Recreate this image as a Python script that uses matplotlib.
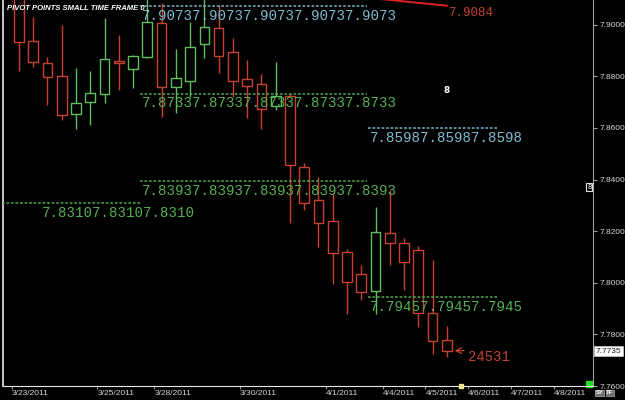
import matplotlib
matplotlib.use("Agg")
import matplotlib.pyplot as plt
import matplotlib.transforms as mtransforms
from matplotlib.patches import Rectangle

# bars (3 per trading day)
opens = [7.9130, 7.8937, 7.8852, 7.8802, 7.8654, 7.8701, 7.8732, 7.8860, 7.8829, 7.8875,
         7.9007, 7.8759, 7.8782, 7.8926, 7.8988, 7.8895, 7.8790, 7.8771, 7.8685, 7.8724,
         7.8449, 7.8321, 7.8240, 7.8119, 7.8034, 7.7968, 7.8193, 7.8154, 7.8127, 7.7883,
         7.7778]
highs = [7.9160, 7.9030, 7.8875, 7.8999, 7.8833, 7.8821, 7.9026, 7.8960, 7.8883, 7.9100,
         7.9085, 7.8906, 7.9011, 7.9100, 7.9077, 7.8949, 7.8864, 7.8809, 7.8856, 7.8732,
         7.8464, 7.8410, 7.8348, 7.8131, 7.8069, 7.8294, 7.8360, 7.8174, 7.8143, 7.8088,
         7.7833]
lows = [7.8821, 7.8836, 7.8689, 7.8631, 7.8596, 7.8612, 7.8697, 7.8747, 7.8755, 7.8871,
        7.8643, 7.8658, 7.8720, 7.8871, 7.8813, 7.8720, 7.8639, 7.8596, 7.8670, 7.8232,
        7.8282, 7.8139, 7.7995, 7.7879, 7.7933, 7.7879, 7.8069, 7.7972, 7.7829, 7.7724,
        7.7712]
closes = [7.8933, 7.8856, 7.8798, 7.8650, 7.8697, 7.8736, 7.8867, 7.8852, 7.8879, 7.9011,
          7.8759, 7.8794, 7.8914, 7.8991, 7.8879, 7.8782, 7.8763, 7.8674, 7.8724, 7.8457,
          7.8309, 7.8232, 7.8116, 7.8003, 7.7964, 7.8197, 7.8154, 7.8081, 7.7883, 7.7774,
          7.7735]

day_labels = ["3/23/2011", "3/25/2011", "3/28/2011", "3/30/2011", "4/1/2011",
              "4/4/2011", "4/5/2011", "4/6/2011", "4/7/2011", "4/8/2011"]
day_first_bar = [0, 6, 10, 16, 22, 26, 29, 32, 35, 38]

pivot_levels = [7.9073, 7.8733, 7.8598, 7.8393, 7.8310, 7.7945]
pivot_from = [8.5, 8.5, 24.5, 8.5, -1.2, 24.5]
pivot_to = [24.4, 24.4, 33.5, 24.4, 8.5, 33.5]
pivot_text_x = [8.6, 8.6, 24.6, 8.6, 1.6, 24.6]
pivot_repeat = [5, 5, 3, 5, 3, 3]
pivot_kind = ["blue", "green", "blue", "green", "green", "green"]

last_price = 7.7735
high_mark = 7.9084
bar_count_text = "24531"

RED = "#c8402f"
GREEN = "#5fbf5f"
PGREEN = "#55b055"
PBLUE = "#80bcd2"

fig = plt.figure(figsize=(6.25, 4), dpi=100, facecolor="black")
ax = fig.add_axes([3 / 625, 14 / 400, 590 / 625, 386 / 400])
ax.set_facecolor("black")

for i in range(len(opens)):
    o, h, l, c = opens[i], highs[i], lows[i], closes[i]
    col = GREEN if c >= o else RED
    ax.vlines(i, l, h, color=col, lw=1, zorder=2)
    ax.add_patch(Rectangle((i - 0.34, min(o, c)), 0.68, max(abs(c - o), 0.0002),
                           facecolor="black", edgecolor=col, lw=1, zorder=3))

for lev, x0, x1, tx, n, kind in zip(pivot_levels, pivot_from, pivot_to,
                                     pivot_text_x, pivot_repeat, pivot_kind):
    col = PBLUE if kind == "blue" else PGREEN
    ax.hlines(lev, x0, x1, color=col, lw=1.3, linestyles=(0, (1.5, 1)), alpha=0.8, zorder=4)
    ax.annotate(f"{lev:.4f}" * n, (tx, lev), xytext=(0, -2), textcoords="offset points",
                va="top", ha="left", color=col, fontsize=10.2,
                family="Liberation Mono", zorder=5)

# red trend line and high label at the top
ax.plot([25.3, 30.0], [7.9100, 7.9074], color="#e02020", lw=1.4, zorder=5)
ax.text(30.05, 7.9046, f"{high_mark:.4f}", color=RED, fontsize=9,
        family="Liberation Mono", va="center", ha="left")

# bar counter with arrow
ax.annotate("", xy=(30.35, 7.7737), xytext=(31.4, 7.7737),
            arrowprops=dict(arrowstyle="->", color=RED, lw=0.9))
ax.text(31.5, 7.7712, bar_count_text, color=RED, fontsize=10,
        family="Liberation Mono", va="center", ha="left")

ax.text(30.0, 7.8747, "8", color="white", fontsize=6.5, fontweight="bold",
        va="center", ha="center")
ax.text(40.0, 7.8371, "8", color="white", fontsize=5, va="center", ha="center",
        bbox=dict(boxstyle="square,pad=0.1", fc="black", ec="#e0e0e0", lw=0.8))
ax.plot([40.0], [7.7606], marker="s", ms=4, color="#22dd22", clip_on=False)
ax.plot([31.0], [7.7600], marker="s", ms=3, color="#f0e890", clip_on=False, zorder=6)

ax.set_xlim(-1.12, 40.25)
ax.set_ylim(7.76, 7.9096)

# axes styling
ax.spines["top"].set_visible(False)
ax.spines["left"].set_color("#e8e8e8")
ax.spines["bottom"].set_color("#e8e8e8")
ax.spines["right"].set_color("#a0a0a0")
ax.spines["left"].set_linewidth(1.2)

ax.yaxis.tick_right()
ax.set_yticks([7.76, 7.78, 7.80, 7.82, 7.84, 7.86, 7.88, 7.90])
ax.set_yticklabels([f"{v:.4f}" for v in ax.get_yticks()])
ax.tick_params(axis="y", colors="#a0a0a0", labelcolor="#d8d8d8", labelsize=6,
               length=3, pad=2)
for lab in ax.get_yticklabels():
    lab.set_family("Liberation Sans")

ax.set_xticks([b - 0.5 for b in day_first_bar])
ax.set_xticklabels(day_labels)
ax.tick_params(axis="x", colors="#909090", labelcolor="#d8d8d8", labelsize=6,
               length=2, pad=1)
for lab in ax.get_xticklabels():
    lab.set_ha("left")
    lab.set_family("Liberation Sans")

# last price box on the price scale
tr = mtransforms.blended_transform_factory(ax.transAxes, ax.transData)
ax.text(1.004, last_price, f"{last_price:.4f}", transform=tr, color="#202020",
        fontsize=6, family="Liberation Sans", va="center", ha="left",
        bbox=dict(boxstyle="square,pad=0.2", fc="white", ec="#c0c0c0", lw=0.6),
        clip_on=False)

fig.text(7 / 625, 1 - 8 / 400, "PIVOT POINTS SMALL TIME FRAME 0", color="white",
         fontsize=5.5, fontweight="bold", style="italic", va="center", ha="left",
         family="Liberation Sans")
fig.text(595.5 / 625, 7 / 400, "SY", color="white", fontsize=4.2, fontweight="bold",
         va="center", ha="left", family="Liberation Sans",
         bbox=dict(boxstyle="square,pad=0.05", fc="#707070", ec="#b0b0b0", lw=0.5))
fig.text(606 / 625, 7 / 400, "TF", color="white", fontsize=4.2, fontweight="bold",
         va="center", ha="left", family="Liberation Sans",
         bbox=dict(boxstyle="square,pad=0.05", fc="#707070", ec="#b0b0b0", lw=0.5))

fig.savefig("out.png", dpi=100, facecolor="black")
